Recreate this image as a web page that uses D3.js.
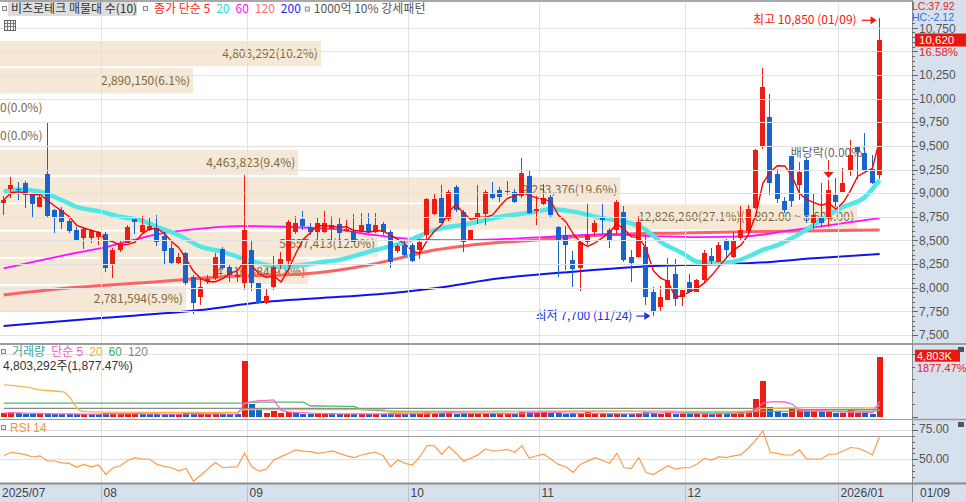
<!DOCTYPE html>
<html><head><meta charset="utf-8">
<script src="https://cdn.jsdelivr.net/npm/d3@7"></script>
<style>
html,body{margin:0;padding:0;background:#fff;overflow:hidden}
svg{display:block;font-family:"Noto Sans CJK KR","Noto Sans",sans-serif}
.ax{font-family:"Liberation Sans","DejaVu Sans",sans-serif}
.lg{font-family:"Liberation Sans","Noto Sans CJK KR",sans-serif}
</style></head><body>
<svg id="c" width="966" height="502"></svg>
<script>
// ---------------- DATA ----------------
const dates = [
"2025-07-14","2025-07-15","2025-07-16","2025-07-17","2025-07-18","2025-07-21","2025-07-22","2025-07-23","2025-07-24","2025-07-25","2025-07-28","2025-07-29","2025-07-30","2025-07-31",
"2025-08-01","2025-08-04","2025-08-05","2025-08-06","2025-08-07","2025-08-08","2025-08-11","2025-08-12","2025-08-13","2025-08-14","2025-08-18","2025-08-19","2025-08-20","2025-08-21","2025-08-22","2025-08-25","2025-08-26","2025-08-27","2025-08-28","2025-08-29",
"2025-09-01","2025-09-02","2025-09-03","2025-09-04","2025-09-05","2025-09-08","2025-09-09","2025-09-10","2025-09-11","2025-09-12","2025-09-15","2025-09-16","2025-09-17","2025-09-18","2025-09-19","2025-09-22","2025-09-23","2025-09-24","2025-09-25","2025-09-26","2025-09-29","2025-09-30",
"2025-10-01","2025-10-02","2025-10-10","2025-10-13","2025-10-14","2025-10-15","2025-10-16","2025-10-17","2025-10-20","2025-10-21","2025-10-22","2025-10-23","2025-10-24","2025-10-27","2025-10-28","2025-10-29","2025-10-30","2025-10-31",
"2025-11-03","2025-11-04","2025-11-05","2025-11-06","2025-11-07","2025-11-10","2025-11-11","2025-11-12","2025-11-13","2025-11-14","2025-11-17","2025-11-18","2025-11-19","2025-11-20","2025-11-21","2025-11-24","2025-11-25","2025-11-26","2025-11-27","2025-11-28",
"2025-12-01","2025-12-02","2025-12-03","2025-12-04","2025-12-05","2025-12-08","2025-12-09","2025-12-10","2025-12-11","2025-12-12","2025-12-15","2025-12-16","2025-12-17","2025-12-18","2025-12-19","2025-12-22","2025-12-23","2025-12-24","2025-12-26","2025-12-29","2025-12-30",
"2026-01-02","2026-01-05","2026-01-06","2026-01-07","2026-01-08","2026-01-09"];

const open = [8900,9040,9045,9105,8990,8855,9200,8820,8820,8705,8615,8530,8530,8535,
8565,8240,8400,8470,8725,8590,8615,8635,8545,8415,8265,8365,8115,7900,8070,8100,8405,8220,8110,8045,
8400,8045,7840,8005,8240,8280,8590,8725,8645,8585,8590,8620,8670,8600,8600,8590,8670,8590,8670,8590,8385,8450,
8450,8400,8560,8785,8950,8725,9070,8805,8495,8750,8785,9005,9030,9025,9015,8965,9180,8815,
8890,8960,8645,8555,8290,8205,8485,8590,8750,8610,8610,8805,8330,8330,8435,7960,7800,7870,8145,7905,
8065,7960,8080,8335,8275,8510,8330,8525,8600,8840,9490,9810,9200,8920,9390,9085,9355,8680,8750,8750,8985,
9015,9245,9500,9420,9260,9190];
const high = [8965,9175,9120,9125,8995,9000,9745,8830,8850,8730,8640,8640,8620,8600,
8585,8420,8500,8660,8730,8760,8735,8770,8590,8470,8370,8380,8130,8100,8130,8365,8430,8255,8170,9190,
8500,8050,8000,8340,8375,8720,8760,8810,8680,8750,8810,8760,8750,8720,8780,8790,8790,8790,8700,8610,8460,8500,
8470,8520,8945,8990,9090,9035,9085,8820,8610,9090,9030,9120,9070,9130,9040,9370,9250,8970,
9095,8980,8650,8650,8390,8500,8890,8715,8890,8630,8930,8860,8400,8760,8560,8010,8020,8310,8300,7975,
8150,8090,8400,8420,8485,8520,8590,8860,8870,9470,10320,10050,9260,8960,9390,9330,9370,9005,9105,9140,9160,
9265,9560,9500,9640,9400,10850];
const low = [8770,8945,8925,8840,8735,8850,8750,8575,8620,8580,8500,8410,8470,8450,
8170,8100,8380,8470,8570,8570,8600,8440,8250,8240,8255,8030,7720,7820,8040,8085,8185,8065,8060,7975,
7970,7830,7830,7980,8200,8230,8570,8610,8560,8520,8580,8510,8480,8590,8480,8580,8580,8580,8560,8205,8370,8330,
8270,8300,8520,8770,8680,8710,8800,8380,8490,8670,8660,8940,8910,8985,8900,8950,8780,8660,
8880,8750,8115,8190,8010,7970,8450,8545,8570,8420,8570,8270,8065,8310,7815,7700,7740,7870,7810,7810,
7945,7950,8050,8250,8270,8300,8310,8500,8560,8830,9470,8980,8895,8790,8850,8930,8680,8620,8640,8640,8850,
9010,9180,9150,9240,9100,9150];
const close = [8925,9085,9030,8980,8885,8960,8760,8735,8700,8600,8505,8620,8610,8590,
8205,8400,8460,8640,8700,8660,8650,8480,8390,8265,8330,8045,7835,8010,8095,8330,8205,8135,8130,8610,
8045,7835,7915,8215,8300,8690,8680,8650,8590,8680,8680,8660,8575,8625,8485,8660,8590,8665,8590,8275,8440,8345,
8285,8485,8935,8935,8685,9015,8820,8485,8610,8795,9015,8945,8960,9015,8910,9210,8790,8830,
8945,8770,8500,8450,8195,8485,8555,8680,8720,8505,8910,8295,8260,8700,7905,7740,7905,8080,7885,7975,
7950,8080,8365,8285,8450,8400,8505,8610,8830,9455,10125,9105,8935,8820,8920,9225,8770,8770,8680,9035,8910,
9110,9405,9440,9245,9110,10620];
// volume, thousand shares
const volume = [290,340,280,220,220,230,270,210,200,200,210,230,200,190,
320,270,200,280,230,200,220,190,210,220,200,280,270,220,200,230,220,200,210,4440,
1000,550,320,430,290,360,280,250,230,220,250,230,200,220,240,220,220,200,230,320,220,200,
230,250,390,290,270,340,250,280,220,270,310,220,220,210,220,480,480,270,
360,260,290,240,260,290,340,220,210,200,240,250,200,310,480,270,200,480,240,200,
220,220,310,220,270,240,270,340,420,1450,2890,800,420,320,610,550,460,430,410,390,310,
280,550,270,290,255.839,4803.292];
const rsi = [53,56,55,54,52,53,48.6,48.6,47,46.6,43.2,45.7,43.7,45.2,37.2,42.9,44.6,49,51.4,50.3,
50.3,45.7,44,42.9,40.3,42.3,31.5,36.6,42,47.4,42.9,43.5,43.7,55.1,43.7,40,41.8,49.4,52.3,55,
58,57,56.5,55.1,56,57.1,55.1,53,51.4,53.7,55,56,53,43.7,49.4,46.6,45.2,52,61.7,61.4,
54.3,60.8,55,48.6,50.9,54,58.8,57.1,57.5,58.5,56,61.4,50.9,53,54.3,50,45.7,43.7,38.9,45.7,
48.5,51.4,49,46.6,55.1,42.9,42.3,51.4,38.9,37.2,41,44.6,41.8,42.9,42.9,46,50.9,49.4,52.3,51.4,
53,54,59.4,66,74.2,56,55,53.7,53.7,58,50.3,50.3,50.3,54.3,54.3,57,60,59.4,57,53.7,69.3];

// moving averages: [candle index, value]
const ma20 = [[0,9015],[2,9040],[5,9015],[8,8925],[10,8855],[13,8810],[16,8750],[19,8710],[21,8645],[24,8555],[27,8435],[30,8380],[32,8330],[35,8260],[38,8220],[41,8240],[43,8265],[46,8295],[50,8380],[55,8485],[59,8610],[64,8680],[68,8750],[73,8805],[75,8830],[78,8805],[82,8735],[86,8680],[88,8610],[90,8485],[93,8365],[95,8275],[97,8260],[100,8275],[102,8330],[104,8400],[106,8450],[108,8525],[111,8665],[113,8770],[115,8855],[118,8960],[120,9140]];
const ma60 = [[0,8205],[5,8290],[10,8370],[14,8430],[18,8510],[22,8580],[27,8625],[32,8652],[38,8645],[43,8630],[46,8615],[49,8575],[52,8546],[56,8515],[60,8504],[64,8504],[70,8520],[74,8536],[82,8565],[89,8546],[95,8536],[102,8546],[108,8610],[112,8650],[116,8694],[120,8737]];
const ma120 = [[0,7923],[10,8004],[21,8063],[27,8099],[32,8124],[38,8134],[43,8158],[46,8187],[50,8240],[55,8328],[59,8398],[64,8451],[73,8504],[82,8557],[89,8575],[93,8578],[102,8592],[120,8610]];
const ma200 = [[0,7595],[13,7677],[27,7764],[36,7852],[43,7888],[55,7958],[59,7994],[68,8099],[78,8169],[89,8229],[93,8240],[102,8258],[111,8311],[120,8356]];
const volMa20 = [[0,2550],[3,2390],[5,2150],[8,2000],[9,1600],[10,720],[11,400],[14,360],[20,350],[32,350],[33,560],[52,560],[53,350],[60,370],[70,400],[80,440],[90,430],[100,430],[103,500],[104,640],[110,720],[115,730],[119,700],[120,920]];
const volMa60 = [[0,1090],[33,1090],[34,1170],[41,1170],[42,875],[48,820],[49,560],[55,430],[70,420],[92,420],[93,360],[100,370],[104,420],[110,450],[119,440],[120,510]];
const volMa120 = [[0,660],[108,660],[110,560],[120,590]];

// price-volume profile (매물대, 10 bands)
const bandLow = 7740, bandStep = 288;
const bandVolumes = [2781594,4616384,5657413,12826260,9283376,4463823,0,0,2890150,4803292]; // bottom -> top
const exDivDate = "2025-12-29";
const priceTicks = d3.range(7500, 10751, 250);
const monthLabels = ["2025/07","08","09","10","11","12","2026/01"];

// ---------------- DRAW ----------------
const svg = d3.select("#c");
const W = 966, H = 502, PR = 912;
const RED = "#ee1c12", BLUE = "#1763d0";
const step = 7.3;
const x = d3.scaleBand().domain(dates).range([0, dates.length * step]).paddingInner(0.25).paddingOuter(0.125);
const xc = d => x(d) + x.bandwidth() / 2;
const y = d3.scaleLinear().domain([7500, 10250]).range([335, 75]);
const yv = d3.scaleLinear().domain([0, 4803.292]).range([416.7, 356.7]);
const yr = d3.scaleLinear().domain([30, 70]).range([483, 435.7]);
const fmt = d3.format(","), fmt2 = d3.format(",.2f");

svg.append("rect").attr("width", W).attr("height", H).attr("fill", "#fff");
const defs = svg.append("defs");
defs.append("clipPath").attr("id", "cp").append("rect").attr("x", 0).attr("y", 3).attr("width", PR).attr("height", 339);
defs.append("clipPath").attr("id", "cv").append("rect").attr("x", 0).attr("y", 345).attr("width", PR).attr("height", 73);
defs.append("clipPath").attr("id", "cr").append("rect").attr("x", 0).attr("y", 421).attr("width", PR).attr("height", 62);

// profile bands
const gp = svg.append("g").attr("clip-path", "url(#cp)");
const maxBand = d3.max(bandVolumes), totBand = d3.sum(bandVolumes);
const bx = d3.scaleLinear().domain([0, maxBand]).range([0, 857]);
bandVolumes.forEach((v, k) => {
  const lo = bandLow + k * bandStep, hi = lo + bandStep;
  const y1 = y(hi) + 1, y2 = y(lo) - 1;
  if (v > 0) gp.append("rect").attr("x", 0).attr("y", y1).attr("width", bx(v)).attr("height", y2 - y1).attr("fill", "#f5e8d6");
});

// grid
const grid = svg.append("g").attr("shape-rendering", "crispEdges");
priceTicks.forEach(t => grid.append("line").attr("x1", 0).attr("x2", PR).attr("y1", Math.round(y(t)) + 0.5).attr("y2", Math.round(y(t)) + 0.5).attr("stroke", "#e2e2e2"));
const monthStarts = [];
dates.forEach((d, i) => { if (i === 0 || d.slice(5, 7) !== dates[i - 1].slice(5, 7)) monthStarts.push(i); });
const monthX = i => i === 0 ? 0 : Math.round(x(dates[i]) - (x.step() - x.bandwidth()) / 2) - 0.5;
monthStarts.forEach(i => {
  if (i > 0) grid.append("line").attr("x1", monthX(i)).attr("x2", monthX(i)).attr("y1", 3).attr("y2", 483).attr("stroke", "#e0e0e0");
});
grid.append("line").attr("x1", 0).attr("x2", PR).attr("y1", Math.round(yv(5000)) + 0.5).attr("y2", Math.round(yv(5000)) + 0.5).attr("stroke", "#e2e2e2");
[75, 50].forEach(v => grid.append("line").attr("x1", 0).attr("x2", PR).attr("y1", Math.round(yr(v)) + 0.5).attr("y2", Math.round(yr(v)) + 0.5).attr("stroke", "#e0e0e0"));
[70, 30].forEach(v => grid.append("line").attr("x1", 0).attr("x2", PR).attr("y1", Math.round(yr(v)) + 0.5).attr("y2", Math.round(yr(v)) + 0.5).attr("stroke", "#9a9a9a").attr("stroke-width", 1.5));

// profile labels
bandVolumes.forEach((v, k) => {
  const lo = bandLow + k * bandStep, hi = lo + bandStep;
  const ym = (y(hi) + y(lo)) / 2;
  let s = fmt(v) + "(" + (v / totBand * 100).toFixed(1) + "%)";
  if (v === maxBand) s += "(" + fmt2(hi) + " ~ " + fmt2(lo) + ")";
  const t = gp.append("text").attr("y", ym).attr("dy", "0.35em").attr("font-size", 12).attr("fill", "#7d6843").text(s);
  if (v > 0) t.attr("x", bx(v) - 3).attr("text-anchor", "end");
  else t.attr("x", 0);
});

// ex-dividend marker
const xd = xc(exDivDate);
gp.append("text").attr("x", xd).attr("y", 153).attr("dy", "0.35em").attr("text-anchor", "middle").attr("font-size", 12).attr("fill", "#666").text("배당락(0.00%)");
gp.append("line").attr("x1", xd).attr("x2", xd).attr("y1", 160).attr("y2", 173).attr("stroke", RED).attr("stroke-width", 1);
gp.append("path").attr("d", `M${xd - 5},172L${xd + 5},172L${xd},178Z`).attr("fill", RED);

// moving averages
const lineP = d3.line().x(p => xc(dates[p[0]])).y(p => y(p[1])).curve(d3.curveMonotoneX);
gp.append("path").attr("d", lineP(ma200)).attr("fill", "none").attr("stroke", "#1212f0").attr("stroke-width", 2);
gp.append("path").attr("d", lineP(ma120)).attr("fill", "none").attr("stroke", "#ff6262").attr("stroke-width", 3);
gp.append("path").attr("d", lineP(ma60)).attr("fill", "none").attr("stroke", "#ff10ff").attr("stroke-width", 1.8);
gp.append("path").attr("d", lineP(ma20)).attr("fill", "none").attr("stroke", "#52e6e6").attr("stroke-width", 4.5);

// candles
const cg = gp.append("g").attr("shape-rendering", "crispEdges");
dates.forEach((d, i) => {
  const c = close[i] >= open[i] ? RED : BLUE;
  const bxp = Math.round(x(d));
  cg.append("line").attr("x1", bxp + 2.5).attr("x2", bxp + 2.5).attr("y1", y(high[i])).attr("y2", y(low[i])).attr("stroke", c);
  const t = Math.min(y(open[i]), y(close[i])), h = Math.max(1, Math.abs(y(open[i]) - y(close[i])));
  cg.append("rect").attr("x", bxp).attr("y", t).attr("width", 5).attr("height", h).attr("fill", c);
});
// MA5 computed from closes
const ma5 = close.map((v, i) => d3.mean(close.slice(Math.max(0, i - 4), i + 1)));
gp.append("path").attr("d", d3.line().x((v, i) => xc(dates[i])).y(v => y(v))(ma5)).attr("fill", "none").attr("stroke", "#ff0000").attr("stroke-width", 1.4);

// high / low markers
const iHi = d3.maxIndex(high), iLo = d3.minIndex(low);
function mdTxt(d) { return d.slice(5, 7) + "/" + d.slice(8, 10); }
{
  const xh = xc(dates[iHi]), yh = y(high[iHi]) + 2;
  gp.append("text").attr("x", xh - 23).attr("y", yh).attr("dy", "0.35em").attr("text-anchor", "end").attr("font-size", 12).attr("fill", "#ff1010").text("최고 " + fmt(high[iHi]) + " (" + mdTxt(dates[iHi]) + ")");
  gp.append("line").attr("x1", xh - 18).attr("x2", xh - 5).attr("y1", yh).attr("y2", yh).attr("stroke", "#ff1010").attr("stroke-width", 1.2);
  gp.append("path").attr("d", `M${xh - 9},${yh - 4}L${xh - 3},${yh}L${xh - 9},${yh + 4}Z`).attr("fill", "#ff1010");
  const xl = xc(dates[iLo]), yl = y(low[iLo]);
  gp.append("text").attr("x", xl - 21).attr("y", yl).attr("dy", "0.35em").attr("text-anchor", "end").attr("font-size", 12).attr("fill", "#2030e0").text("최저 " + fmt(low[iLo]) + " (" + mdTxt(dates[iLo]) + ")");
  gp.append("line").attr("x1", xl - 17).attr("x2", xl - 5).attr("y1", yl).attr("y2", yl).attr("stroke", "#2030e0").attr("stroke-width", 1.2);
  gp.append("path").attr("d", `M${xl - 9},${yl - 4}L${xl - 3},${yl}L${xl - 9},${yl + 4}Z`).attr("fill", "#2030e0");
}

// volume
const gv = svg.append("g").attr("clip-path", "url(#cv)");
const vg = gv.append("g").attr("shape-rendering", "crispEdges");
dates.forEach((d, i) => {
  const prev = i > 0 ? close[i - 1] : open[i];
  const c = close[i] >= prev ? RED : BLUE;
  const bxp = Math.round(x(d));
  const h = Math.max(1, yv(0) - yv(volume[i]));
  vg.append("rect").attr("x", bxp).attr("y", yv(0) - h).attr("width", 6).attr("height", h).attr("fill", c);
});
const lineV = d3.line().x(p => xc(dates[p[0]])).y(p => yv(p[1])).curve(d3.curveMonotoneX);
gv.append("path").attr("d", lineV(volMa120)).attr("fill", "none").attr("stroke", "#8a8a8a").attr("stroke-width", 1.3);
gv.append("path").attr("d", lineV(volMa60)).attr("fill", "none").attr("stroke", "#55b870").attr("stroke-width", 1.3);
gv.append("path").attr("d", lineV(volMa20)).attr("fill", "none").attr("stroke", "#f5b840").attr("stroke-width", 1.3);
const vma5 = volume.map((v, i) => d3.mean(volume.slice(Math.max(0, i - 4), i + 1)));
gv.append("path").attr("d", d3.line().x((v, i) => xc(dates[i])).y(v => yv(v))(vma5)).attr("fill", "none").attr("stroke", "#ff66cc").attr("stroke-width", 1.3);

// rsi
const gr = svg.append("g").attr("clip-path", "url(#cr)");
gr.append("path").attr("d", d3.line().x((v, i) => xc(dates[i])).y(v => yr(v))(rsi)).attr("fill", "none").attr("stroke", "#ff9a48").attr("stroke-width", 1.2);

// panel separators
const sep = svg.append("g").attr("shape-rendering", "crispEdges");
sep.append("line").attr("x1", 0).attr("x2", W).attr("y1", 1).attr("y2", 1).attr("stroke", "#a8a8a8").attr("stroke-width", 2);
sep.append("line").attr("x1", 0).attr("x2", W).attr("y1", 344).attr("y2", 344).attr("stroke", "#9c9c9c").attr("stroke-width", 2);
sep.append("line").attr("x1", 0).attr("x2", W).attr("y1", 419.5).attr("y2", 419.5).attr("stroke", "#9c9c9c").attr("stroke-width", 1.5);

// right axis panel
svg.append("rect").attr("x", PR).attr("y", 0).attr("width", W - PR).attr("height", 484).attr("fill", "#d7e1ed");
svg.append("line").attr("x1", PR + 0.5).attr("x2", PR + 0.5).attr("y1", 0).attr("y2", 484).attr("stroke", "#8c8c8c");
svg.append("line").attr("x1", PR).attr("x2", W).attr("y1", 344).attr("y2", 344).attr("stroke", "#9c9c9c").attr("stroke-width", 2);
svg.append("line").attr("x1", PR).attr("x2", W).attr("y1", 419.5).attr("y2", 419.5).attr("stroke", "#9c9c9c").attr("stroke-width", 1.5);
const ax = svg.append("g").attr("class", "ax");
const last = close.length - 1;
const yLast = y(close[last]);
d3.range(7500, 10851, 50).forEach(t => {
  const yy = Math.round(y(t)) + 0.5;
  ax.append("line").attr("x1", PR).attr("x2", PR + (t % 250 === 0 ? 6 : 3)).attr("y1", yy).attr("y2", yy).attr("stroke", "#666").attr("shape-rendering", "crispEdges");
});
// the label hidden by the last-price box is not drawn
priceTicks.filter(t => Math.abs(y(t) - yLast) > 12).forEach(t =>
  ax.append("text").attr("x", PR + 7).attr("y", y(t) + (t === 10750 ? 1 : 0)).attr("dy", "0.35em").attr("font-size", 12).attr("fill", "#555").text(fmt(t)));
d3.range(0, 5001, 1000).forEach(t => {
  const yy = Math.round(yv(t)) + 0.5;
  ax.append("line").attr("x1", PR).attr("x2", PR + (t % 5000 === 0 ? 6 : 3)).attr("y1", yy).attr("y2", yy).attr("stroke", "#666").attr("shape-rendering", "crispEdges");
});
d3.range(30, 81, 5).forEach(t => {
  const yy = Math.round(yr(t)) + 0.5;
  if (yy < 421 || yy > 483) return;
  ax.append("line").attr("x1", PR).attr("x2", PR + (t % 25 === 0 ? 6 : 3)).attr("y1", yy).attr("y2", yy).attr("stroke", "#666").attr("shape-rendering", "crispEdges");
});
[75, 50].forEach(t => ax.append("text").attr("x", PR + 7).attr("y", yr(t) - 1).attr("dy", "0.35em").attr("font-size", 12).attr("fill", "#555").text(t.toFixed(2)));

// last price / ratio overlays
const chg = (close[last] / close[last - 1] - 1) * 100;
const lc = (close[last] / d3.min(low) - 1) * 100, hc = (close[last] / d3.max(high) - 1) * 100;
ax.append("rect").attr("x", PR + 1).attr("y", 2).attr("width", W - PR - 1).attr("height", 20).attr("fill", "#d7e1ed");
ax.append("text").attr("x", PR).attr("y", 6.6).attr("dy", "0.35em").attr("font-size", 10.5).attr("fill", "#e8221a").text("LC:" + lc.toFixed(2));
ax.append("text").attr("x", PR).attr("y", 17).attr("dy", "0.35em").attr("font-size", 10.5).attr("fill", "#2f6fe0").text("HC:" + hc.toFixed(2));
ax.append("rect").attr("x", PR + 3).attr("y", yLast - 6.5).attr("width", W - PR - 3).attr("height", 13).attr("fill", "#e8180c");
ax.append("text").attr("x", PR + 7).attr("y", yLast).attr("dy", "0.35em").attr("font-size", 11.5).attr("fill", "#fff").text(fmt(close[last]));
ax.append("text").attr("x", PR + 7).attr("y", yLast + 12).attr("dy", "0.35em").attr("font-size", 11.5).attr("fill", "#e8221a").text(chg.toFixed(2) + "%");
const lv = volume[last], ratio = volume[last] / volume[last - 1] * 100;
ax.append("rect").attr("x", PR + 3).attr("y", yv(lv) - 7).attr("width", W - PR - 9).attr("height", 12).attr("fill", "#e8180c");
ax.append("text").attr("x", PR + 5).attr("y", yv(lv) - 1).attr("dy", "0.35em").attr("font-size", 11).attr("fill", "#fff").text(fmt(Math.round(lv)) + "K");
ax.append("text").attr("x", PR + 5).attr("y", yv(lv) + 11.5).attr("dy", "0.35em").attr("font-size", 11).attr("fill", "#e8221a").text(d3.format(".2f")(ratio) + "%");
[347, 422].forEach(yy => svg.append("rect").attr("x", W - 8).attr("y", yy).attr("width", 6).attr("height", 5).attr("fill", "#555"));

// bottom axis
svg.append("rect").attr("x", 0).attr("y", 484).attr("width", W).attr("height", 18).attr("fill", "#d7e1ed");
svg.append("line").attr("x1", 0).attr("x2", W).attr("y1", 483.5).attr("y2", 483.5).attr("stroke", "#8c8c8c").attr("stroke-width", 2);
svg.append("line").attr("x1", PR + 0.5).attr("x2", PR + 0.5).attr("y1", 484).attr("y2", 502).attr("stroke", "#8c8c8c");
monthStarts.forEach((i, k) => {
  const lx = monthX(i);
  if (i > 0) svg.append("line").attr("x1", lx).attr("x2", lx).attr("y1", 484).attr("y2", 502).attr("stroke", "#b8c2ce");
  svg.append("text").attr("class", "ax").attr("x", lx + 2).attr("y", 493).attr("dy", "0.35em").attr("font-size", 12).attr("fill", "#444").text(monthLabels[k]);
});
svg.append("text").attr("class", "ax").attr("x", PR + 8).attr("y", 493).attr("dy", "0.35em").attr("font-size", 12).attr("fill", "#444").text(mdTxt(dates[last]));

// legends
function sq(xx, yy) { svg.append("rect").attr("x", xx + 0.5).attr("y", yy + 0.5).attr("width", 4).attr("height", 4).attr("fill", "#eee").attr("stroke", "#888"); }
function chain(items, x0, yy, gap, size, cls) {
  let cx = x0;
  items.forEach(([t, c, g]) => {
    if (t === "■") { sq(cx, yy - 2.5); cx += 9; return; }
    const el = svg.append("text").attr("x", cx).attr("y", yy).attr("dy", "0.35em").attr("font-size", size).attr("fill", c).text(t);
    if (cls) el.attr("class", cls);
    cx += el.node().getComputedTextLength() + (g == null ? gap : g);
  });
}
sq(2, 6);
svg.append("rect").attr("x", 8).attr("y", 2).attr("width", 129).attr("height", 14).attr("fill", "#dedede");
svg.append("text").attr("x", 11).attr("y", 9).attr("dy", "0.35em").attr("font-size", 12).attr("fill", "#333").text("비츠로테크 매물대 수(10)");
sq(143, 6);
chain([["종가 단순 5", "#ff1a1a"], ["20", "#20dede"], ["60", "#ff10ff"], ["120", "#ff6a6a"], ["200", "#2424ff", 4], ["■"], ["1000억 10% 강세패턴", "#555"]], 154, 9, 6, 12);
// grid icon
{
  const gi = svg.append("g").attr("shape-rendering", "crispEdges");
  gi.append("rect").attr("x", 4.5).attr("y", 20.5).attr("width", 11).attr("height", 10).attr("fill", "#f4f4f4").attr("stroke", "#666");
  [7.5, 10.5, 13.5].forEach(v => gi.append("line").attr("x1", v).attr("x2", v).attr("y1", 21).attr("y2", 30).attr("stroke", "#777"));
  [23.5, 26.5].forEach(v => gi.append("line").attr("x1", 5).attr("x2", 15).attr("y1", v).attr("y2", v).attr("stroke", "#777"));
}
sq(1, 349);
chain([["거래량", "#3ea6a6"], ["단순 5", "#ff55cc"], ["20", "#f0b030"], ["60", "#3fae5e"], ["120", "#888"]], 12, 351.5, 6, 12, "lg");
svg.append("text").attr("class", "lg").attr("x", 3).attr("y", 365.5).attr("dy", "0.35em").attr("font-size", 12).attr("fill", "#333")
  .text(fmt(Math.round(lv * 1000)) + "주(" + d3.format(",.2f")(ratio) + "%)");
sq(1, 425);
svg.append("text").attr("class", "lg").attr("x", 10).attr("y", 428).attr("dy", "0.35em").attr("font-size", 12).attr("fill", "#ff9033").text("RSI 14");
</script></body></html>
